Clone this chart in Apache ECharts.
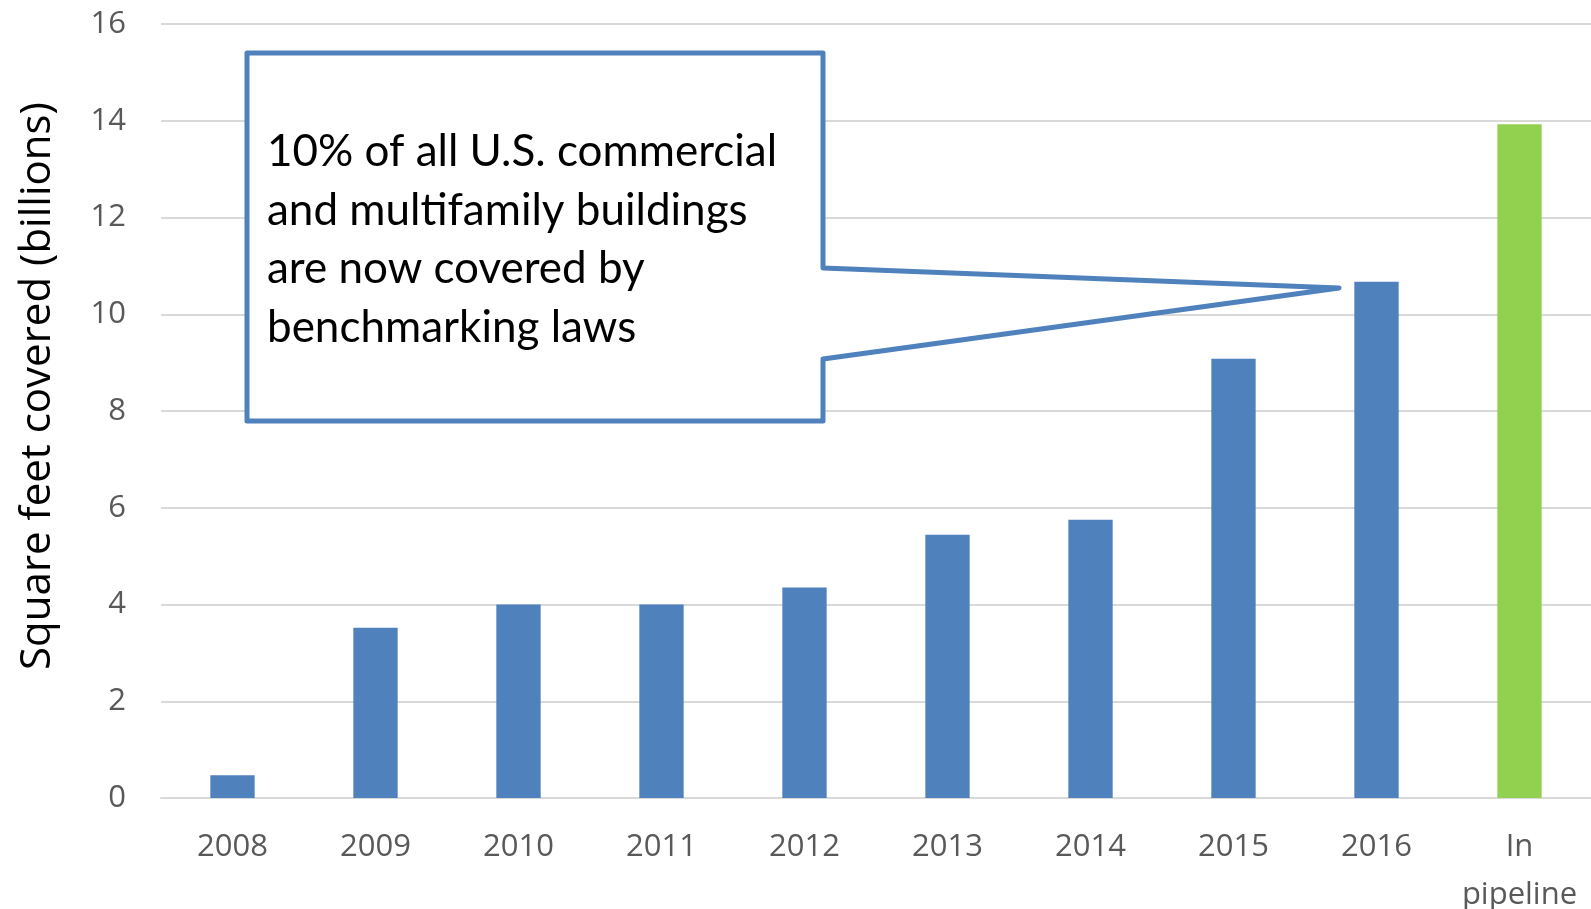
<!DOCTYPE html>
<html>
<head>
<meta charset="utf-8">
<script src="https://cdn.jsdelivr.net/npm/echarts@6/dist/echarts.min.js"></script>
<style>
  html, body { margin: 0; padding: 0; background: #fff; }
  #chart { width: 1591px; height: 909px; }
</style>
</head>
<body>
<div id="chart"></div>
<script>
// data
const categories = ["2008", "2009", "2010", "2011", "2012", "2013", "2014", "2015", "2016", "In\npipeline"];
const sqftBillions = [0.47, 3.52, 4.0, 4.0, 4.35, 5.44, 5.75, 9.08, 10.67, 13.93];
const yTicks = { min: 0, max: 16, interval: 2 };
const calloutText = "10% of all U.S. commercial\nand multifamily buildings\nare now covered by\nbenchmarking laws";

const BLUE = "#4f81bd";
const GREEN = "#92d050";

const chart = echarts.init(document.getElementById("chart"));

const option = {
  animation: false,
  grid: { left: 161, right: 0, top: 24, bottom: 111, outerBoundsMode: "none", containLabel: false },
  xAxis: {
    type: "category",
    data: categories,
    axisTick: { show: false },
    axisLine: { lineStyle: { color: "#d9d9d9", width: 2 } },
    axisLabel: {
      color: "#595959",
      fontFamily: "Open Sans",
      fontSize: 31,
      lineHeight: 48,
      margin: 25,
      interval: 0,
    },
  },
  yAxis: {
    type: "value",
    min: yTicks.min,
    max: yTicks.max,
    interval: yTicks.interval,
    axisLine: { show: false },
    axisTick: { show: false },
    axisLabel: {
      color: "#595959",
      fontFamily: "Open Sans",
      fontSize: 31,
      margin: 35,
    },
    splitLine: { lineStyle: { color: "#d9d9d9", width: 2 } },
  },
  series: [
    {
      type: "bar",
      barWidth: "31%",
      data: sqftBillions.map((v, i) => ({
        value: v,
        itemStyle: { color: i === sqftBillions.length - 1 ? GREEN : BLUE },
      })),
    },
  ],
  graphic: [
    {
      type: "text",
      x: 38,
      y: 386,
      rotation: Math.PI / 2,
      style: {
        text: "Square feet covered (billions)",
        font: "42px 'Open Sans', sans-serif",
        fill: "#000",
        align: "center",
        verticalAlign: "middle",
      },
    },
    {
      // callout box with pointer towards the 2016 bar
      type: "polygon",
      shape: {
        points: [
          [247, 53], [823, 53], [823, 268], [1339, 288],
          [823, 359], [823, 421], [247, 421],
        ],
      },
      style: { fill: "#fff", stroke: BLUE, lineWidth: 5, lineJoin: "round" },
      z: 10,
    },
    {
      type: "text",
      x: 267,
      y: 240,
      style: {
        text: calloutText,
        font: "44px Lato, sans-serif",
        lineHeight: 58.5,
        fill: "#000",
        align: "left",
        verticalAlign: "middle",
      },
      z: 11,
    },
  ],
};

chart.setOption(option);
</script>
</body>
</html>
